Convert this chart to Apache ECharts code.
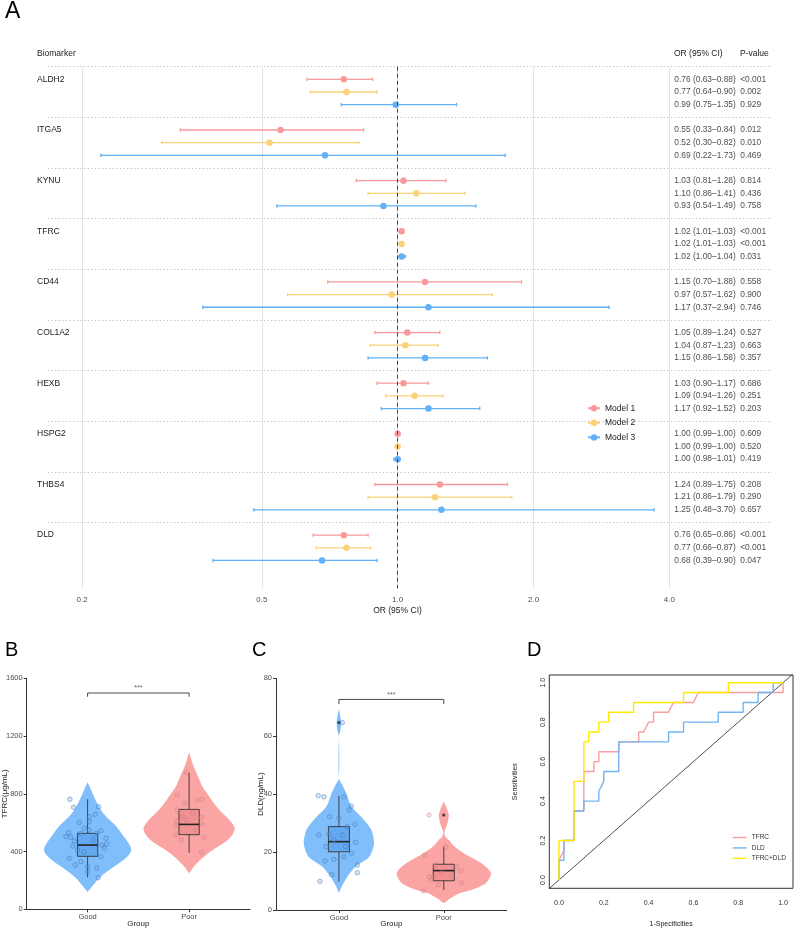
<!DOCTYPE html>
<html>
<head>
<meta charset="utf-8">
<script src="https://cdn.jsdelivr.net/npm/echarts@6/dist/echarts.min.js"></script>
<style>
html, body { margin: 0; padding: 0; background: #fff; }
#fig { width: 794px; height: 930px; }
</style>
</head>
<body>
<div id="fig"></div>
<script>
// ---- A: forest plot ----
const genes = ['ALDH2', 'ITGA5', 'KYNU', 'TFRC', 'CD44', 'COL1A2', 'HEXB', 'HSPG2', 'THBS4', 'DLD'];
const orM1 = [0.76, 0.55, 1.03, 1.02, 1.15, 1.05, 1.03, 1.00, 1.24, 0.76];
const loM1 = [0.63, 0.33, 0.81, 1.01, 0.70, 0.89, 0.90, 0.99, 0.89, 0.65];
const hiM1 = [0.88, 0.84, 1.28, 1.03, 1.88, 1.24, 1.17, 1.00, 1.75, 0.86];
const pM1 = ['<0.001', '0.012', '0.814', '<0.001', '0.558', '0.527', '0.686', '0.609', '0.208', '<0.001'];
const orM2 = [0.77, 0.52, 1.10, 1.02, 0.97, 1.04, 1.09, 1.00, 1.21, 0.77];
const loM2 = [0.64, 0.30, 0.86, 1.01, 0.57, 0.87, 0.94, 0.99, 0.86, 0.66];
const hiM2 = [0.90, 0.82, 1.41, 1.03, 1.62, 1.23, 1.26, 1.00, 1.79, 0.87];
const pM2 = ['0.002', '0.010', '0.436', '<0.001', '0.900', '0.663', '0.251', '0.520', '0.290', '<0.001'];
const orM3 = [0.99, 0.69, 0.93, 1.02, 1.17, 1.15, 1.17, 1.00, 1.25, 0.68];
const loM3 = [0.75, 0.22, 0.54, 1.00, 0.37, 0.86, 0.92, 0.98, 0.48, 0.39];
const hiM3 = [1.35, 1.73, 1.49, 1.04, 2.94, 1.58, 1.52, 1.01, 3.70, 0.90];
const pM3 = ['0.929', '0.469', '0.758', '0.031', '0.746', '0.357', '0.203', '0.419', '0.657', '0.047'];
const orTicks = [0.2, 0.5, 1.0, 2.0, 4.0];

// ---- B: TFRC violin ----
const groups = ['Good', 'Poor'];
// [jitter offset, value]
const tfrcGood = [[-0.174,762],[-0.138,706],[0.108,711],[0.075,658],[0.016,641],[-0.082,602],[0.016,607],
  [-0.187,530],[-0.164,498],[0.131,544],[-0.033,561],[0.089,526],[-0.066,526],[-0.131,473],[-0.148,438],
  [0.141,445],[0.187,452],[0.164,422],[0.056,480],[-0.181,353],[-0.033,399],[-0.122,307],[0.131,364],
  [0,295],[0.089,288],[0,260],[0.105,219],[-0.066,330],[-0.099,411],[-0.213,503],[0.016,549],[0.181,492]];
const tfrcPoor = [[-0.026,949],[-0.118,792],[-0.043,738],[0.079,757],[0.125,762],[-0.118,688],[-0.066,641],
  [0.122,637],[-0.125,611],[-0.131,577],[0.131,591],[-0.135,515],[-0.076,480],[0.144,498],[0.122,395],
  [0.039,665],[0.072,549],[-0.026,618]];
// [x, min, q1, median, q3, max]
const tfrcBox = [[1, 222, 367, 445, 526, 762], [2, 392, 517, 588, 692, 946]];
// violin outline: [value, half width]
const tfrcViolinGood = [[880,0],[850,0.02],[800,0.05],[740,0.09],[680,0.14],[630,0.2],[590,0.26],[550,0.31],
  [500,0.36],[450,0.41],[415,0.43],[380,0.41],[340,0.35],[300,0.27],[260,0.19],[220,0.12],[180,0.07],[145,0.03],[120,0]];
const tfrcViolinPoor = [[1090,0],[1040,0.02],[980,0.05],[900,0.1],[850,0.13],[780,0.2],[730,0.25],[680,0.31],
  [640,0.37],[600,0.42],[560,0.45],[520,0.43],[480,0.38],[440,0.3],[400,0.21],[360,0.14],[320,0.08],[280,0.03],[250,0]];
const tfrcSig = [1, 2, 1498, 26];

// ---- C: DLD violin ----
const dldGood = [[-0.197,39.5],[-0.143,39.1],[0.048,39.1],[0.118,35.9],[0.095,34.5],[-0.089,32.2],[0,31.7],
  [0.153,29.6],[-0.191,25.9],[-0.095,26.2],[0.159,23.4],[-0.121,21.9],[0.064,21.9],[0.121,19.6],[-0.133,16.9],
  [-0.048,17.5],[0.175,15.5],[0.175,12.9],[-0.070,12.2],[-0.181,9.9],[0.032,25.9],[-0.048,24.2],[0.048,18.4],
  [0.080,28.8],[0.032,64.7]];
const dldPoor = [[-0.140,32.8],[0.019,21.9],[-0.184,19.0],[-0.083,15.5],[0.124,15.0],[0.165,13.6],[-0.140,11.5],
  [-0.099,11.5],[0.172,9.4],[-0.051,8.7],[-0.194,6.6],[-0.019,12.9],[0.076,11.5],[-0.121,10.4]];
const dldBox = [[1, 9.8, 20.1, 23.6, 28.8, 39.4], [2, 6.9, 10.1, 13.6, 15.8, 21.9]];
const dldOutliers = [[1, 64.7], [2, 32.8]];
const dldViolinGood = [[69.6,0],[67,0.012],[64.7,0.022],[62,0.014],[59.8,0],[45.5,0],[43,0.035],[40.3,0.07],
  [35.7,0.12],[31.1,0.24],[27.6,0.31],[23,0.335],[18.4,0.29],[15,0.16],[11.5,0.08],[8,0.025],[5.8,0]];
const dldViolinPoor = [[37.4,0],[35,0.03],[32.8,0.048],[30,0.035],[27.5,0.01],[26.5,0.005],[25,0.02],[24.2,0.048],
  [22,0.1],[19.6,0.19],[16.1,0.36],[12.7,0.45],[9.2,0.4],[7,0.27],[5.8,0.15],[4,0.06],[2.3,0]];
const dldSig = [1, 2, 72.7, 1.6];

// ---- D: ROC ----
const rocTFRC = [[0,0],[0,0.1],[0.022,0.15],[0.022,0.2],[0.067,0.2],[0.067,0.35],[0.111,0.35],[0.111,0.55],
  [0.156,0.55],[0.156,0.6],[0.178,0.6],[0.178,0.65],[0.267,0.65],[0.267,0.7],[0.356,0.7],[0.356,0.75],[0.378,0.75],
  [0.4,0.8],[0.422,0.8],[0.422,0.85],[0.489,0.85],[0.511,0.9],[0.6,0.9],[0.622,0.95],[1,0.95],[1,1]];
const rocDLD = [[0,0],[0,0.1],[0.022,0.1],[0.022,0.2],[0.067,0.2],[0.067,0.35],[0.111,0.35],[0.111,0.4],
  [0.178,0.4],[0.178,0.45],[0.2,0.5],[0.2,0.55],[0.267,0.55],[0.267,0.7],[0.489,0.7],[0.489,0.75],[0.556,0.75],
  [0.556,0.8],[0.711,0.8],[0.711,0.85],[0.822,0.85],[0.822,0.9],[0.889,0.9],[0.889,0.95],[0.956,0.95],[0.956,1],[1,1]];
const rocBoth = [[0,0],[0,0.2],[0.067,0.2],[0.067,0.5],[0.111,0.5],[0.111,0.7],[0.133,0.7],[0.133,0.75],
  [0.178,0.75],[0.178,0.8],[0.222,0.8],[0.222,0.85],[0.333,0.85],[0.333,0.9],[0.556,0.9],[0.556,0.95],
  [0.756,0.95],[0.756,1],[1,1]];
const rocDiag = [[-0.1,-0.1],[1.1,1.1]];
const rocTicks = [0, 0.2, 0.4, 0.6, 0.8, 1.0];

const FONT = 'Liberation Sans, Arial, sans-serif';
const models = [
  { name: 'Model 1', or: orM1, lo: loM1, hi: hiM1, p: pM1, color: '#F89A9C' },
  { name: 'Model 2', or: orM2, lo: loM2, hi: hiM2, p: pM2, color: '#F9D27A' },
  { name: 'Model 3', or: orM3, lo: loM3, hi: hiM3, p: pM3, color: '#62B0F8' }
];
const fmt = v => v.toFixed(2);

var fig = echarts.init(document.getElementById('fig'));
var series = [];

// legend carriers
models.forEach(function (m) {
  series.push({
    type: 'line', name: m.name, data: [], xAxisIndex: 0, yAxisIndex: 0,
    symbol: 'circle', symbolSize: 6, itemStyle: { color: m.color },
    lineStyle: { color: m.color, width: 1.5 }
  });
});

var orText = [], pText = [];
models.forEach(function (m, k) {
  var bars = [], dots = [];
  genes.forEach(function (g, i) {
    var y = 4 * i + k + 1;
    bars.push([Math.log(m.lo[i]), Math.log(m.hi[i]), y]);
    dots.push([Math.log(m.or[i]), y]);
    orText.push({ name: fmt(m.or[i]) + ' (' + fmt(m.lo[i]) + '–' + fmt(m.hi[i]) + ')', value: [Math.log(4.1), y] });
    pText.push({ name: m.p[i], value: [Math.log(5.74), y] });
  });
  var color = m.color;
  var s = {
    type: 'custom', xAxisIndex: 0, yAxisIndex: 0, data: bars, silent: true,
    encode: { x: [0, 1], y: 2 },
    renderItem: function (params, api) {
      var a = api.coord([api.value(0), api.value(2)]);
      var b = api.coord([api.value(1), api.value(2)]);
      var st = { stroke: color, lineWidth: 1.3 };
      return { type: 'group', children: [
        { type: 'line', shape: { x1: a[0], y1: a[1], x2: b[0], y2: b[1] }, style: st },
        { type: 'line', shape: { x1: a[0], y1: a[1] - 1.7, x2: a[0], y2: a[1] + 1.7 }, style: st },
        { type: 'line', shape: { x1: b[0], y1: b[1] - 1.7, x2: b[0], y2: b[1] + 1.7 }, style: st }
      ] };
    }
  };
  if (k === 0) {
    s.markLine = {
      silent: true, symbol: 'none', label: { show: false },
      lineStyle: { color: '#444', type: [4, 3], width: 1 },
      data: [{ xAxis: 0 }]
    };
  }
  series.push(s);
  series.push({
    type: 'scatter', xAxisIndex: 0, yAxisIndex: 0, data: dots, silent: true,
    symbolSize: 6.5, itemStyle: { color: m.color, opacity: 1 }, z: 3
  });
});

[orText, pText].forEach(function (d) {
  series.push({
    type: 'scatter', xAxisIndex: 0, yAxisIndex: 0, data: d, symbolSize: 0, silent: true,
    label: { show: true, formatter: '{b}', position: 'right', distance: 0,
      fontSize: 8.4, color: '#1a1a1a', fontFamily: FONT }
  });
});

// ---- violin helpers ----
function violin(outline, center, color, ax) {
  return {
    type: 'custom', xAxisIndex: ax, yAxisIndex: ax, data: [[center, outline[0][0]]], silent: true, z: 1,
    renderItem: function (params, api) {
      var right = outline.map(function (p) { return api.coord([center + p[1], p[0]]); });
      var left = outline.slice().reverse().map(function (p) { return api.coord([center - p[1], p[0]]); });
      return { type: 'polygon', shape: { points: right.concat(left), smooth: 0.25 }, style: { fill: color } };
    }
  };
}
function boxes(data, fills, ax) {
  return {
    type: 'custom', xAxisIndex: ax, yAxisIndex: ax, data: data, silent: true, z: 2,
    encode: { x: 0, y: [1, 5] },
    renderItem: function (params, api) {
      var x = api.value(0), w = 0.1;
      var lo = api.coord([x, api.value(1)]), hi = api.coord([x, api.value(5)]);
      var q1 = api.coord([x - w, api.value(2)]), q3 = api.coord([x + w, api.value(4)]);
      var mdL = api.coord([x - w, api.value(3)]), mdR = api.coord([x + w, api.value(3)]);
      var st = { stroke: '#333', lineWidth: 0.9 };
      return { type: 'group', children: [
        { type: 'line', shape: { x1: lo[0], y1: lo[1], x2: lo[0], y2: q1[1] }, style: st },
        { type: 'line', shape: { x1: hi[0], y1: hi[1], x2: hi[0], y2: q3[1] }, style: st },
        { type: 'rect', shape: { x: q1[0], y: q3[1], width: q3[0] - q1[0], height: q1[1] - q3[1] },
          style: { fill: fills[params.dataIndex], stroke: '#333', lineWidth: 0.9 } },
        { type: 'line', shape: { x1: mdL[0], y1: mdL[1], x2: mdR[0], y2: mdR[1] }, style: { stroke: '#222', lineWidth: 1.6 } }
      ] };
    }
  };
}
function jitter(pts, center, fill, stroke, ax) {
  return {
    type: 'scatter', xAxisIndex: ax, yAxisIndex: ax, silent: true, z: 3, symbolSize: 4.5,
    data: pts.map(function (p) { return [center + p[0], p[1]]; }),
    itemStyle: { color: fill, borderColor: stroke, borderWidth: 0.8 }
  };
}
function bracket(sig, ax) {
  return [{
    type: 'line', xAxisIndex: ax, yAxisIndex: ax, silent: true, symbol: 'none', z: 4,
    data: [[sig[0], sig[2] - sig[3]], [sig[0], sig[2]], [sig[1], sig[2]], [sig[1], sig[2] - sig[3]]],
    lineStyle: { color: '#333', width: 0.9 }
  }, {
    type: 'scatter', xAxisIndex: ax, yAxisIndex: ax, silent: true, symbolSize: 0,
    data: [{ name: '***', value: [(sig[0] + sig[1]) / 2, sig[2]] }],
    label: { show: true, formatter: '{b}', position: 'top', distance: 1, fontSize: 7, color: '#333' }
  }];
}

var blueV = '#80BEFB', pinkV = '#FBA4A4';
var boxFills = ['#63A9F0', '#F29191'];
series.push(violin(tfrcViolinGood, 1, blueV, 1), violin(tfrcViolinPoor, 2, pinkV, 1));
series.push(boxes(tfrcBox, boxFills, 1));
series.push(jitter(tfrcGood, 1, 'rgba(110,165,225,0.35)', 'rgba(55,110,180,0.7)', 1));
series.push(jitter(tfrcPoor, 2, 'rgba(235,140,140,0.35)', 'rgba(190,120,120,0.55)', 1));
series.push.apply(series, bracket(tfrcSig, 1));

series.push(violin(dldViolinGood, 1, blueV, 2), violin(dldViolinPoor, 2, pinkV, 2));
series.push(boxes(dldBox, boxFills, 2));
series.push({
  type: 'scatter', xAxisIndex: 2, yAxisIndex: 2, silent: true, z: 3, symbolSize: 3.2,
  data: dldOutliers, itemStyle: { color: '#222' }
});
series.push(jitter(dldGood, 1, 'rgba(110,165,225,0.35)', 'rgba(55,110,180,0.7)', 2));
series.push(jitter(dldPoor, 2, 'rgba(235,140,140,0.35)', 'rgba(190,120,120,0.55)', 2));
series.push.apply(series, bracket(dldSig, 2));

// ROC
series.push({
  type: 'line', xAxisIndex: 3, yAxisIndex: 3, data: rocDiag, symbol: 'none', silent: true,
  lineStyle: { color: '#222', width: 0.8 }, clip: true
});
[['TFRC', rocTFRC, '#FA9D9F'], ['DLD', rocDLD, '#72B5F4'], ['TFRC+DLD', rocBoth, '#FFEA00']].forEach(function (r) {
  series.push({
    type: 'line', name: r[0], xAxisIndex: 3, yAxisIndex: 3, data: r[1], symbol: 'none', silent: true,
    lineStyle: { color: r[2], width: 1.4 }, itemStyle: { color: r[2] }, clip: true
  });
});

var tickLbl = { fontSize: 7.5, color: '#4d4d4d', fontFamily: FONT };
function groupX(ax) {
  return {
    gridIndex: ax, type: 'value', min: 0.4, max: 2.6,
    axisLine: { show: true, lineStyle: { color: '#333', width: 1 } },
    axisTick: { show: true, length: 3, customValues: [1, 2], lineStyle: { color: '#333' } },
    axisLabel: Object.assign({ customValues: [1, 2], margin: 4, formatter: function (v) { return groups[v - 1]; } }, tickLbl),
    splitLine: { show: false },
    name: 'Group', nameLocation: 'middle', nameGap: 10, nameMoveOverlap: false,
    nameTextStyle: { fontSize: 8, color: '#222', fontFamily: FONT }
  };
}
function groupY(ax, max, interval, name, gap) {
  return {
    gridIndex: ax, type: 'value', min: 0, max: max, interval: interval,
    axisLine: { show: true, lineStyle: { color: '#333', width: 1 } },
    axisTick: { show: true, length: 3, lineStyle: { color: '#333' } },
    axisLabel: Object.assign({ margin: 4, formatter: function (v) { return String(v); } }, tickLbl),
    splitLine: { show: false },
    name: name, nameLocation: 'middle', nameGap: gap, nameMoveOverlap: false,
    nameTextStyle: { fontSize: 8, color: '#222', fontFamily: FONT }
  };
}

var option = {
  animation: false,
  backgroundColor: '#fff',
  textStyle: { fontFamily: FONT },
  grid: [
    { left: 48, right: 22, top: 66.7, bottom: 341.7, outerBoundsMode: 'none' },
    { left: 26.7, right: 544, top: 678.3, bottom: 20.7, outerBoundsMode: 'none' },
    { left: 276, right: 287.3, top: 678.3, bottom: 20, outerBoundsMode: 'none' },
    { left: 549.3, right: 1, top: 675, bottom: 41.7, show: true, borderColor: '#333', borderWidth: 1,
      backgroundColor: 'transparent', outerBoundsMode: 'none' }
  ],
  xAxis: [
    {
      gridIndex: 0, type: 'value', min: Math.log(0.168), max: Math.log(6.75),
      axisLine: { show: false },
      axisTick: { show: false, customValues: orTicks.map(Math.log) },
      axisLabel: { customValues: orTicks.map(Math.log), margin: 7, fontSize: 8, color: '#4d4d4d',
        formatter: function (v) { return Math.exp(v).toFixed(1); } },
      splitLine: { show: true, lineStyle: { color: '#e3e3e3', width: 1 } }
    },
    groupX(1), groupX(2),
    {
      gridIndex: 3, type: 'value', min: -0.0431, max: 1.0444,
      axisLine: { show: false }, axisTick: { show: false },
      axisLabel: { customValues: rocTicks, margin: 11, fontSize: 7, color: '#333',
        formatter: function (v) { return v.toFixed(1); } },
      splitLine: { show: false },
      name: '1-Specificities', nameLocation: 'middle', nameGap: 32, nameMoveOverlap: false,
      nameTextStyle: { fontSize: 7, color: '#222' }
    }
  ],
  yAxis: [
    {
      gridIndex: 0, type: 'value', min: 0, max: 41.2, inverse: true,
      axisLine: { show: false },
      axisTick: { show: false, customValues: [0, 4, 8, 12, 16, 20, 24, 28, 32, 36] },
      axisLabel: { customValues: [1, 5, 9, 13, 17, 21, 25, 29, 33, 37], align: 'left', margin: 11,
        fontSize: 8.5, color: '#1a1a1a', formatter: function (v) { return genes[(v - 1) / 4]; } },
      splitLine: { show: true, lineStyle: { color: '#bdbdbd', type: [1.2, 2.4], width: 1 } }
    },
    groupY(1, 1600, 400, 'TFRC(μg/mL)', 18),
    groupY(2, 80, 20, 'DLD(ng/mL)', 11),
    {
      gridIndex: 3, type: 'value', min: -0.042, max: 1.039,
      axisLine: { show: false }, axisTick: { show: false },
      axisLabel: { customValues: rocTicks, margin: 2.5, rotate: 90, fontSize: 7, color: '#333',
        formatter: function (v) { return v.toFixed(1); } },
      splitLine: { show: false },
      name: 'Sensitivities', nameLocation: 'middle', nameGap: 31, nameMoveOverlap: false,
      nameTextStyle: { fontSize: 7, color: '#222' }
    }
  ],
  legend: [
    {
      data: ['Model 1', 'Model 2', 'Model 3'], orient: 'vertical', left: 587, top: 403.7, padding: 0,
      itemWidth: 12, itemHeight: 8, itemGap: 5.6, selectedMode: false,
      textStyle: { fontSize: 8.5, color: '#1a1a1a', fontFamily: FONT }
    },
    {
      data: ['TFRC', 'DLD', 'TFRC+DLD'], orient: 'vertical', left: 732.7, top: 834, padding: 0,
      icon: 'rect', itemWidth: 14, itemHeight: 1.4, itemGap: 3.4, selectedMode: false,
      textStyle: { fontSize: 6.5, color: '#333', fontFamily: FONT }
    }
  ],
  graphic: [
    { type: 'text', left: 5, top: 0, style: { text: 'A', fontSize: 23, fill: '#000', fontFamily: FONT } },
    { type: 'text', left: 5, top: 640, style: { text: 'B', fontSize: 20, fill: '#000', fontFamily: FONT } },
    { type: 'text', left: 252, top: 640, style: { text: 'C', fontSize: 20, fill: '#000', fontFamily: FONT } },
    { type: 'text', left: 527, top: 640, style: { text: 'D', fontSize: 20, fill: '#000', fontFamily: FONT } },
    { type: 'text', x: 37, y: 54, style: { text: 'Biomarker', fontSize: 8.5, fill: '#1a1a1a', verticalAlign: 'middle', fontFamily: FONT } },
    { type: 'text', x: 674, y: 54, style: { text: 'OR (95% CI)', fontSize: 8.5, fill: '#1a1a1a', verticalAlign: 'middle', fontFamily: FONT } },
    { type: 'text', x: 740, y: 54, style: { text: 'P-value', fontSize: 8.5, fill: '#1a1a1a', verticalAlign: 'middle', fontFamily: FONT } },
    { type: 'text', x: 397.5, y: 611, style: { text: 'OR (95% CI)', fontSize: 8.5, fill: '#1a1a1a', align: 'center', verticalAlign: 'middle', fontFamily: FONT } }
  ],
  series: series
};
fig.setOption(option);
</script>
</body>
</html>
